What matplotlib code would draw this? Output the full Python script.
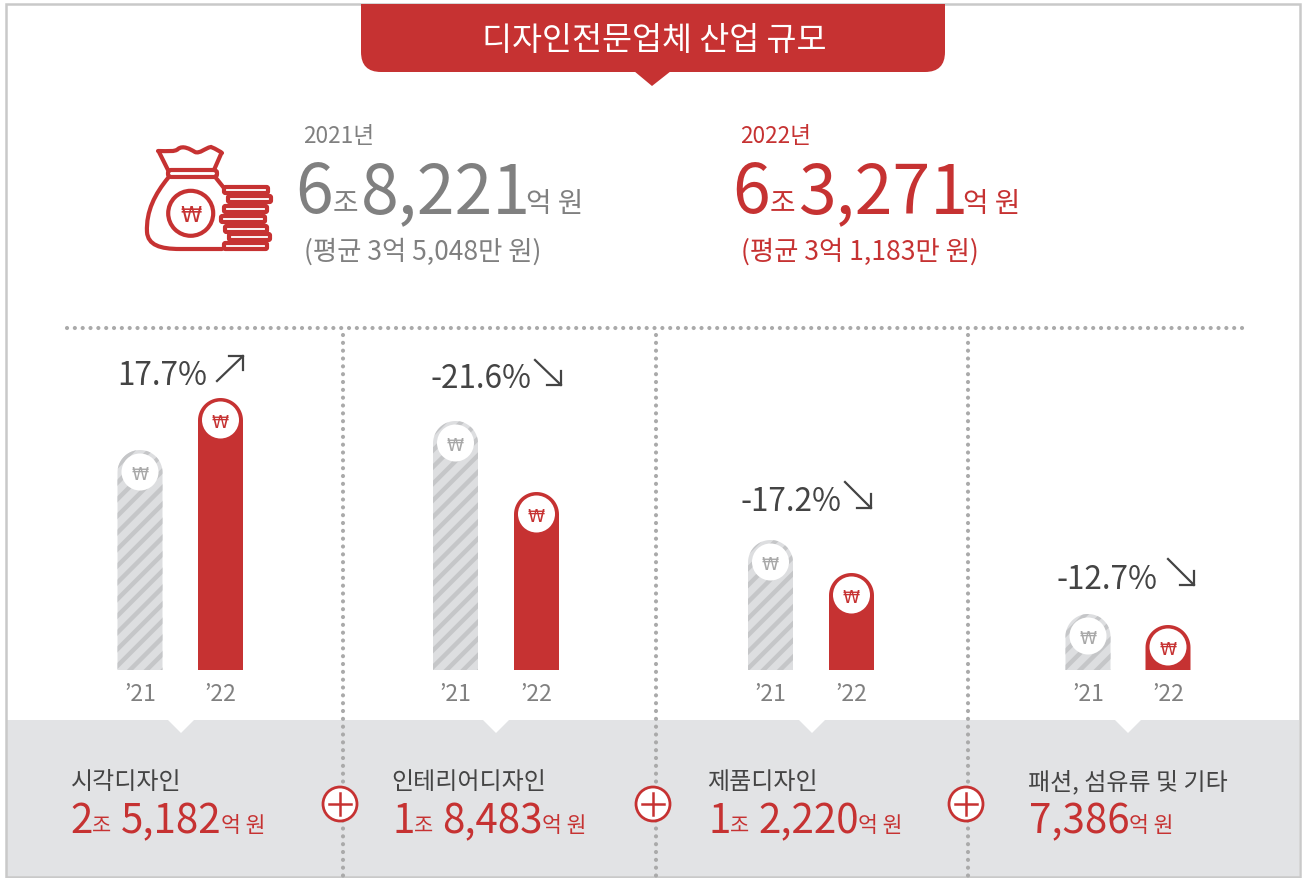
#coding=utf-8
import numpy as np
import matplotlib
matplotlib.use('Agg')
import matplotlib.pyplot as plt
from matplotlib.patches import PathPatch, Circle, Rectangle, Polygon, FancyBboxPatch
from matplotlib.path import Path

plt.rcParams['font.family'] = ['Noto Sans CJK KR', 'DejaVu Sans']
plt.rcParams['hatch.linewidth'] = 3.2

# 데이터
title = '디자인전문업체 산업 규모'
years = ['2021년', '2022년']
total_jo = ['6', '6']
total_rest = ['8,221', '3,271']
total_avg = ['(평균 3억 5,048만 원)', '(평균 3억 1,183만 원)']

fields = ['시각디자인', '인테리어디자인', '제품디자인', '패션, 섬유류 및 기타']
field_jo = ['2', '1', '1', '']
field_rest = ['5,182', '8,483', '2,220', '7,386']
change = ['17.7%', '-21.6%', '-17.2%', '-12.7%']
bar_labels = ['’21', '’22']
# 막대 길이 (그림에서 읽은 값, 축 눈금 없음)
bar_21 = [220, 249, 130, 56]
bar_22 = [272, 178, 97, 45]

RED = '#c63232'
GRAY = '#808080'
DARK = '#444444'
DOT = '#aaaaaa'
STRIP = '#e2e3e5'

fig = plt.figure()
fig.set_size_inches(13.04, 8.79)
ax = fig.add_axes([0, 0, 1, 1])
ax.set_xlim(0, 1304)
ax.set_ylim(879, 0)
ax.axis('off')


def put(x, y, s, size, color, ha='left', weight='light', z=10):
    ax.text(x, y, s, fontsize=size, color=color, ha=ha, va='baseline', fontweight=weight, zorder=z)


def won(x, y, size, color, z=5):
    ax.text(x, y, '₩', fontsize=size, color=color, ha='center', va='center_baseline', zorder=z,
            family=['DejaVu Sans'])


def rounded_bar(xc, height, color, hatch=None):
    base = 671
    w = 22.5
    top = base - height
    t = np.linspace(np.pi, 2 * np.pi, 40)
    xs = xc + w * np.cos(t)
    ys = top + w + w * np.sin(t)
    verts = [(xc - w, base)] + list(zip(xs, ys)) + [(xc + w, base), (xc - w, base)]
    if hatch:
        p = Polygon(verts, closed=True, facecolor='#dddee0', edgecolor='#c5c6c8', hatch=hatch, lw=0, zorder=3)
    else:
        p = Polygon(verts, closed=True, facecolor=color, edgecolor='none', lw=0, zorder=3)
    ax.add_patch(p)
    ax.add_patch(Circle((xc, top + 22), 18.5, facecolor='white', edgecolor='none', zorder=4))
    won(xc, top + 22, 12.5, color)


def arrow(x0, y0, x1, y1):
    ax.plot([x0, x1], [y0, y1], color=DARK, lw=1.6, zorder=6)
    sx = 1 if x1 > x0 else -1
    sy = 1 if y1 > y0 else -1
    ax.plot([x1 - 14 * sx, x1, x1], [y1, y1, y1 - 14 * sy], color=DARK, lw=1.6, zorder=6)


def dotted(xs, ys, z=2):
    ax.plot(xs, ys, color=DOT, lw=3.0, linestyle=(0, (0.01, 1.87)), dash_capstyle='round', zorder=z)


# 테두리, 회색 띠
ax.add_patch(Rectangle((7, 721), 1292, 157, facecolor=STRIP, edgecolor='none', zorder=1))
ax.add_patch(Rectangle((6, 5), 1294, 873, facecolor='none', edgecolor='#c9c9c9', lw=1.8, zorder=1))

# 상단 제목
banner = FancyBboxPatch((361, -30), 584, 103, boxstyle='round,pad=0,rounding_size=20',
                        facecolor=RED, edgecolor='none', zorder=2)
ax.add_patch(banner)
banner.set_clip_path(Rectangle((361, 5), 584, 70, transform=ax.transData))
ax.add_patch(Polygon([(634, 72), (671, 72), (652, 87)], closed=True, facecolor=RED, edgecolor='none', zorder=2))
put(654, 50, title, 23.5, 'white', ha='center', weight='normal')

# 돈주머니 아이콘
icon_lw = 3.0
bag = Path([(158, 152), (168, 152), (175, 153), (178, 150), (183, 146), (190, 150), (195, 153),
            (200, 155), (205, 149), (211, 148), (216, 150), (221, 153), (222, 154)],
           [Path.MOVETO] + [Path.CURVE4] * 12)
ax.add_patch(PathPatch(bag, facecolor='none', edgecolor=RED, lw=icon_lw, capstyle='round', zorder=5))
ax.plot([159, 168], [153, 171], color=RED, lw=icon_lw, solid_capstyle='round', zorder=5)
ax.plot([221, 214], [155, 171], color=RED, lw=icon_lw, solid_capstyle='round', zorder=5)
ax.add_patch(FancyBboxPatch((168, 171), 49, 7, boxstyle='round,pad=0,rounding_size=3',
                            facecolor='none', edgecolor=RED, lw=icon_lw, zorder=5))
body = Path([(168, 179), (155, 195), (146, 212), (147, 233), (148, 246), (160, 250), (180, 250), (222, 250)],
            [Path.MOVETO, Path.CURVE4, Path.CURVE4, Path.CURVE4, Path.CURVE4, Path.CURVE4, Path.CURVE4, Path.LINETO])
ax.add_patch(PathPatch(body, facecolor='none', edgecolor=RED, lw=icon_lw, capstyle='round', zorder=5))
ax.plot([216, 224], [179, 189], color=RED, lw=icon_lw, solid_capstyle='round', zorder=5)
ax.add_patch(Circle((190.7, 214.3), 22.5, facecolor='none', edgecolor=RED, lw=icon_lw, zorder=5))
won(190.7, 214.3, 15.5, RED, z=6)
coins = [(224, 188, 44), (228, 197, 43), (224, 207, 43), (221, 217, 44), (225, 227, 42), (229, 235, 41), (224, 244, 43)]
for cx, cy, cw in coins:
    ax.add_patch(FancyBboxPatch((cx, cy), cw, 6, boxstyle='round,pad=0,rounding_size=1.5',
                                facecolor='white', edgecolor=RED, lw=icon_lw, zorder=5))

# 합계 숫자
total_x = [[295, 333, 361, 526], [732, 770, 798, 963]]
total_c = [GRAY, RED]
year_x = [303, 740]
avg_x = [304, 741]
for i in range(0, 2):
    put(year_x[i], 143, years[i], 16.3, total_c[i])
    put(total_x[i][0], 213, total_jo[i], 49, total_c[i])
    put(total_x[i][1], 212, '조', 20, total_c[i])
    put(total_x[i][2], 213, total_rest[i], 49, total_c[i])
    put(total_x[i][3], 212, '억 원', 20, total_c[i])
    put(avg_x[i], 260, total_avg[i], 19, total_c[i])

# 점선
dotted([67, 1246], [329, 329])
for x in [343, 656, 968]:
    dotted([x, x], [336, 877])

# 막대
x_21 = [140, 455.5, 770.5, 1088]
x_22 = [220.5, 536.5, 851.5, 1168]
pct_x = [117, 431, 740, 1056]
arrows = [(217, 382, 243, 357), (535, 361, 561, 386), (845, 483, 871, 509), (1168, 560, 1194, 586)]
pct_y = [385, 388, 511, 589]
tri_x = [181, 496, 812, 1128]
name_x = [70.5, 391.5, 707.5, 1028.5]
num_x = [[70, 92, 121, 221], [392, 414, 442, 542], [708, 730, 758, 858], [0, 0, 1029, 1129]]
for i in range(0, 4):
    rounded_bar(x_21[i], bar_21[i], '#a8a8a8', hatch='//')
    rounded_bar(x_22[i], bar_22[i], RED)
    put(x_21[i], 701, bar_labels[0], 16.5, GRAY, ha='center')
    put(x_22[i], 701, bar_labels[1], 16.5, GRAY, ha='center')
    put(pct_x[i], pct_y[i], change[i], 22.7, DARK)
    arrow(*arrows[i])
    ax.add_patch(Polygon([(tri_x[i] - 14, 720), (tri_x[i] + 14, 720), (tri_x[i], 734)], closed=True,
                         facecolor='white', edgecolor='none', zorder=2))
    put(name_x[i], 789, fields[i], 17.3, DARK)
    if field_jo[i]:
        put(num_x[i][0], 833, field_jo[i], 29, RED)
        put(num_x[i][1], 832, '조', 15, RED)
    put(num_x[i][2], 833, field_rest[i], 29, RED)
    put(num_x[i][3], 832, '억 원', 15.5, RED)

# 더하기 표시
for x in [340, 653, 966]:
    ax.add_patch(Circle((x, 805), 17, facecolor='white', edgecolor=RED, lw=2.0, zorder=5))
    ax.plot([x - 11, x + 11], [805, 805], color=RED, lw=1.8, zorder=6)
    ax.plot([x, x], [794, 816], color=RED, lw=1.8, zorder=6)

plt.savefig('out.png', dpi=100)
